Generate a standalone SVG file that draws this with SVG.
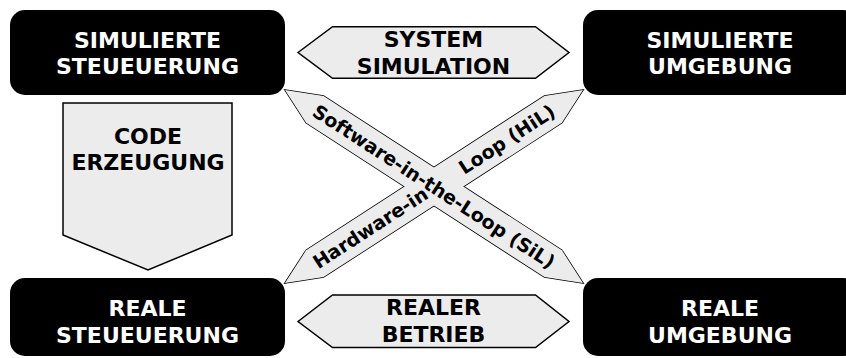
<svg xmlns="http://www.w3.org/2000/svg" xmlns:xlink="http://www.w3.org/1999/xlink" width="846" height="358" viewBox="0 0 846 358">
<style>
.box{fill:#000}
.wt{fill:#fff;font-family:"DejaVu Sans",sans-serif;font-weight:bold;font-size:22px;text-anchor:middle}
.bt{fill:#000;font-family:"DejaVu Sans",sans-serif;font-weight:bold;font-size:22px;text-anchor:middle}
.dt{fill:#000;font-family:"DejaVu Sans",sans-serif;font-weight:bold;font-size:19px}
.arrow{fill:#ececec;stroke:#000;stroke-width:1.5;stroke-linejoin:miter}
.outl{fill:none;stroke:#000;stroke-width:1.5;stroke-linejoin:miter}
.fillo{fill:#ececec;stroke:none}
</style>
<defs>
<polygon id="band" points="-177.5,0 -142,-16 142,-16 177.5,0 142,16 -142,16"/>
</defs>
<rect width="846" height="358" fill="#fff"/>
<g id="node-sim-steuerung">
<rect class="box" x="10" y="10" width="275" height="85" rx="15"/>
<text class="wt" x="147.5" y="47.5">SIMULIERTE</text>
<text class="wt" x="147.5" y="74">STEUEUERUNG</text>
</g>
<g id="node-sim-umgebung">
<rect class="box" x="583" y="10" width="275" height="85" rx="15"/>
<text class="wt" x="720" y="47.5">SIMULIERTE</text>
<text class="wt" x="720" y="74">UMGEBUNG</text>
</g>
<g id="node-reale-steuerung">
<rect class="box" x="10" y="278" width="275" height="78" rx="15"/>
<text class="wt" x="147.5" y="315.5">REALE</text>
<text class="wt" x="147.5" y="342.5">STEUEUERUNG</text>
</g>
<g id="node-reale-umgebung">
<rect class="box" x="583" y="278" width="275" height="78" rx="15"/>
<text class="wt" x="720" y="315.5">REALE</text>
<text class="wt" x="720" y="342.5">UMGEBUNG</text>
</g>
<g id="connectors">
<g id="system-simulation">
<polygon class="arrow" points="298,52.5 332.5,26.7 535.5,26.7 569,52.5 535.5,78.3 332.5,78.3"/>
<text class="bt" x="433.5" y="47">SYSTEM</text>
<text class="bt" x="433.5" y="74">SIMULATION</text>
</g>
<g id="realer-betrieb">
<polygon class="arrow" points="298,321.5 332.5,295 535.5,295 569,321.5 535.5,347.5 332.5,347.5"/>
<text class="bt" x="433.5" y="315">REALER</text>
<text class="bt" x="433.5" y="342">BETRIEB</text>
</g>
<g id="code-erzeugung">
<polygon class="arrow" points="63,103 232,103 232,235 148,270 63,235"/>
<text class="bt" x="148" y="143.5">CODE</text>
<text class="bt" x="148" y="170">ERZEUGUNG</text>
</g>
<g id="in-the-loop">
<use xlink:href="#band" class="outl" transform="translate(434,186.5) rotate(32.93)"/>
<use xlink:href="#band" class="outl" transform="translate(434,186.5) rotate(-32.93)"/>
<use xlink:href="#band" class="fillo" transform="translate(434,186.5) rotate(32.93)"/>
<use xlink:href="#band" class="fillo" transform="translate(434,186.5) rotate(-32.93)"/>
<g transform="translate(434,186.5) rotate(-32.93)">
<text class="dt" x="-142" y="6.8">Hardware-in</text>
<text class="dt" x="142" y="6.8" text-anchor="end">Loop (HiL)</text>
</g>
<g transform="translate(434,186.5) rotate(32.93)">
<text class="dt" x="0" y="6.8" text-anchor="middle">Software-in-the-Loop (SiL)</text>
</g>
</g>
</g>
</svg>
